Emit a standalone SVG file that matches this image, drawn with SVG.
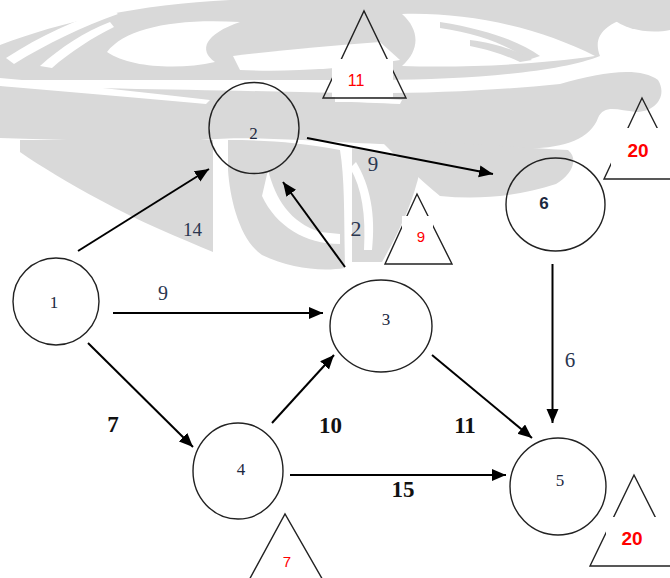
<svg xmlns="http://www.w3.org/2000/svg" width="670" height="578" viewBox="0 0 670 578">
  <defs>
    <marker id="head" markerUnits="userSpaceOnUse" markerWidth="15" markerHeight="13" refX="14" refY="6" orient="auto">
      <path d="M0,0 L14,6 L0,12 Z" fill="#000"/>
    </marker>
    <style>
      .wm { fill: #d9d9d9; }
      .wmw { fill: #ffffff; }
      .node { fill: none; stroke: #222; stroke-width: 1.4; }
      .edge { stroke: #000; stroke-width: 2; fill: none; marker-end: url(#head); }
      .tri { fill: none; stroke: #222; stroke-width: 1.4; }
      .box { fill: #fff; }
      .nlab { font-family: "Liberation Serif", serif; font-size: 17px; fill: #1c2840; text-anchor: middle; }
      .elab { font-family: "Liberation Serif", serif; fill: #2a3650; text-anchor: middle; }
      .blab { font-family: "Liberation Serif", serif; font-weight: bold; font-size: 23px; fill: #111; text-anchor: middle; }
      .tlab { font-family: "Liberation Sans", sans-serif; fill: #ff0000; text-anchor: middle; }
    </style>
  </defs>

  <rect width="670" height="578" fill="#fff"/>

  <!-- faint background emblem -->
  <g id="watermark">
    <!-- upper wing -->
    <path class="wm" d="M0,45 C60,22 140,4 230,0 L640,0 L640,14 C605,22 592,36 600,56 C560,72 470,80 380,80 L0,80 Z"/>
    <path class="wm" d="M612,0 L670,0 L670,30 C650,34 625,30 612,18 Z"/>
    <path class="wmw" d="M6,58 C40,36 78,18 112,9 L118,14 C84,26 46,44 14,64 Z"/>
    <path class="wmw" d="M40,66 C60,48 84,32 110,22 L114,27 C92,38 70,52 52,68 Z"/>
    <path class="wmw" d="M107,52 C125,28 175,18 240,22 C205,34 198,50 215,62 C180,70 130,68 107,52 Z"/>
    <path class="wmw" d="M233,56 C280,50 330,46 380,42 L400,60 C340,70 280,72 240,70 Z"/>
    <path class="wmw" d="M402,14 C470,12 540,28 595,56 C540,64 470,68 402,66 C420,50 420,30 402,14 Z"/>
    <path class="wm" d="M440,22 C490,30 520,42 540,56 L528,60 C510,46 480,34 440,28 Z"/>
    <path class="wm" d="M470,40 C500,44 520,52 532,60 L520,62 C505,55 490,50 470,46 Z"/>
    <!-- long horizontal band with hooked end -->
    <path class="wm" d="M0,86 C80,88 200,90 300,92 C400,95 480,92 560,84 C600,72 640,66 658,80 C668,96 655,112 636,112 C618,110 604,104 598,118 C590,140 560,150 520,148 C480,146 430,146 380,144 C300,140 250,136 200,140 C130,142 60,140 0,138 Z"/>
    <path class="wmw" d="M0,78 C70,84 140,92 210,100 L206,104 C140,98 70,92 0,86 Z"/>
    <path class="wmw" d="M335,97 C360,97 385,99 402,100 L400,104 C380,103 355,102 335,102 Z"/>
    <!-- tapering arm towards node 6 -->
    <path class="wm" d="M380,140 C440,142 500,146 568,150 C580,160 570,176 556,184 C520,196 480,200 440,196 C420,180 400,160 380,140 Z"/>
    <!-- lower-left wedge -->
    <path class="wm" d="M20,140 L213,140 L213,252 C180,238 140,222 100,200 C70,184 40,166 20,152 Z"/>
    <!-- curled stem below node 2 -->
    <path class="wm" d="M228,140 C260,140 300,142 340,150 C345,180 344,220 345,268 C320,272 290,268 262,255 C240,240 230,200 228,170 Z"/>
    <path class="wmw" d="M268,170 C276,200 290,222 320,232 L340,234 L340,244 C305,244 276,226 262,196 Z"/>
    <path class="wm" d="M352,148 C380,150 400,156 420,170 C414,200 400,230 382,262 L352,262 Z"/>
    <path class="wmw" d="M356,162 C370,185 376,215 372,250 L364,250 C366,215 362,188 350,168 Z"/>
  </g>

  <!-- connectors -->
  <g id="connectors">
    <line class="edge" x1="78" y1="251" x2="209" y2="169"/>
    <line class="edge" x1="307" y1="138" x2="493" y2="174"/>
    <line class="edge" x1="345" y1="267" x2="283" y2="182"/>
    <line class="edge" x1="113" y1="313" x2="323" y2="313"/>
    <line class="edge" x1="88" y1="343" x2="193" y2="447"/>
    <line class="edge" x1="272" y1="423" x2="334" y2="355"/>
    <line class="edge" x1="290" y1="475" x2="506" y2="475"/>
    <line class="edge" x1="432" y1="355" x2="532" y2="438"/>
    <line class="edge" x1="552.5" y1="264" x2="552.5" y2="423"/>
  </g>

  <!-- connector labels -->
  <g id="edge-labels">
    <text class="elab" x="192.5" y="236" font-size="19">14</text>
    <text class="elab" x="373" y="171" font-size="21" fill="#2f4468">9</text>
    <text class="elab" x="356" y="236" font-size="22">2</text>
    <text class="elab" x="163" y="300" font-size="20">9</text>
    <text class="elab" x="570" y="367" font-size="21">6</text>
    <text class="blab" x="113" y="432">7</text>
    <text class="blab" x="330.5" y="433">10</text>
    <text class="blab" x="465" y="433">11</text>
    <text class="blab" x="403" y="497">15</text>
  </g>

  <!-- nodes -->
  <g id="node-1">
    <ellipse class="node" cx="56" cy="301.5" rx="43" ry="43.5"/>
    <text class="nlab" x="54" y="308">1</text>
  </g>
  <g id="node-2">
    <ellipse class="node" cx="254" cy="128" rx="45" ry="45.5"/>
    <text class="nlab" x="253.5" y="139">2</text>
  </g>
  <g id="node-3">
    <ellipse class="node" cx="381" cy="326" rx="51" ry="46"/>
    <text class="nlab" x="386" y="325">3</text>
  </g>
  <g id="node-4">
    <ellipse class="node" cx="238" cy="471" rx="45" ry="48"/>
    <text class="nlab" x="241" y="475">4</text>
  </g>
  <g id="node-5">
    <ellipse class="node" cx="558" cy="486.5" rx="48" ry="48.5"/>
    <text class="nlab" x="560" y="486">5</text>
  </g>
  <g id="node-6">
    <ellipse class="node" cx="555.5" cy="204.5" rx="49.5" ry="46.5"/>
    <text x="544" y="209" font-family="Liberation Sans, sans-serif" font-weight="bold" font-size="17" fill="#1c2840" text-anchor="middle">6</text>
  </g>

  <!-- time markers -->
  <g id="marker-2">
    <path class="tri" d="M323,98 L364,11 L406,98 Z"/>
    <rect class="box" x="332" y="59" width="61" height="38"/>
    <text class="tlab" x="356" y="86" font-size="16">11</text>
  </g>
  <g id="marker-6">
    <path class="tri" d="M604,179 L642,98 L683,179 Z"/>
    <rect class="box" x="611" y="128" width="60" height="50"/>
    <text class="tlab" x="638" y="157" font-size="19" font-weight="bold">20</text>
  </g>
  <g id="marker-3">
    <path class="tri" d="M385,264 L417,194 L452,264 Z"/>
    <rect class="box" x="402" y="216" width="31" height="47"/>
    <text class="tlab" x="421" y="242" font-size="15" fill="#ff3b3b">9</text>
  </g>
  <g id="marker-4">
    <path class="tri" d="M248,582 L285,514 L324,582"/>
    <text class="tlab" x="287" y="567" font-size="15">7</text>
  </g>
  <g id="marker-5">
    <path class="tri" d="M590,566 L634,475 L680,566 Z"/>
    <rect class="box" x="606" y="517" width="66" height="48"/>
    <text class="tlab" x="632" y="545" font-size="19" font-weight="bold">20</text>
  </g>
</svg>
